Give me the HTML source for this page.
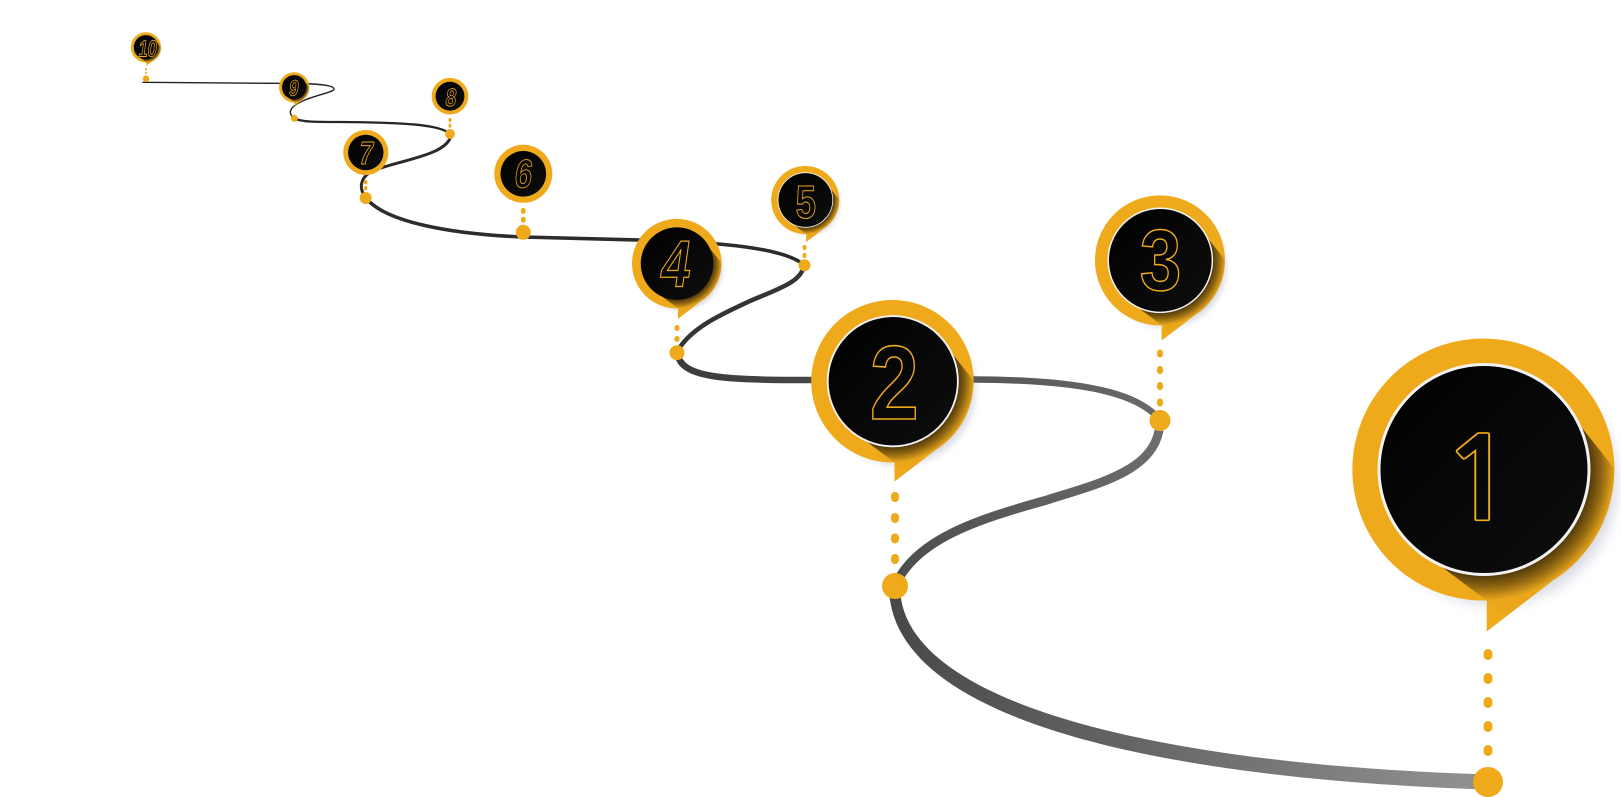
<!DOCTYPE html>
<html lang="en">
<head>
<meta charset="utf-8">
<title>Numbered path 1-10</title>
<style>
html,body{margin:0;padding:0;background:#fff;width:1621px;height:797px;overflow:hidden}
svg{display:block}
.n{fill:none;stroke:#efaa1c;font-family:"Liberation Sans",sans-serif;font-weight:700;text-anchor:middle}
.g{fill:#efaa1c}
.l{fill:none;stroke-linecap:round}
</style>
</head>
<body>
<svg width="1621" height="797" viewBox="0 0 1621 797" xmlns="http://www.w3.org/2000/svg">
<defs>
<linearGradient id="ga" gradientUnits="userSpaceOnUse" x1="1488" y1="782" x2="895" y2="600"><stop offset="0" stop-color="#929292"/><stop offset=".55" stop-color="#666"/><stop offset="1" stop-color="#484848"/></linearGradient>
<linearGradient id="gb" gradientUnits="userSpaceOnUse" x1="895" y1="586" x2="1160" y2="420"><stop offset="0" stop-color="#4c4c4c"/><stop offset="1" stop-color="#6e6e6e"/></linearGradient>
<linearGradient id="gc" gradientUnits="userSpaceOnUse" x1="1160" y1="420" x2="677" y2="352"><stop offset="0" stop-color="#6a6a6a"/><stop offset=".4" stop-color="#565656"/><stop offset="1" stop-color="#3a3a3a"/></linearGradient>
<radialGradient id="sh" gradientUnits="userSpaceOnUse" cx="0" cy="0" r="131"><stop offset=".79" stop-color="#000" stop-opacity=".72"/><stop offset=".9" stop-color="#000" stop-opacity=".4"/><stop offset="1" stop-color="#000" stop-opacity=".02"/></radialGradient>
<linearGradient id="ink" x1="0" y1="0" x2="1" y2="1"><stop offset="0" stop-color="#000"/><stop offset="1" stop-color="#0e0e0e"/></linearGradient>
<clipPath id="pc"><path d="M2.7,131 L2.7,162 L69,111 A131,131 0 1 0 2.7,131 Z"/></clipPath>
<filter id="bl" x="-30%" y="-30%" width="160%" height="160%"><feGaussianBlur stdDeviation="6"/></filter>
<g id="base">
  <circle cx="11" cy="13" r="122" fill="#7f88a8" opacity=".3" filter="url(#bl)"/>
  <path class="g" d="M2.7,131 L2.7,162 L69,111 A131,131 0 1 0 2.7,131 Z"/>
  <g clip-path="url(#pc)"><path d="M97.7,-42 L190,74 L60,174 L-44,96 Z" fill="url(#sh)"/></g>
</g>
<g id="pw"><use href="#base"/><circle r="105" fill="url(#ink)" stroke="#f2f2f2" stroke-width="3"/></g>
<g id="pn"><use href="#base"/><circle r="106" fill="url(#ink)"/></g>
<g id="pf"><circle r="131" fill="#efaa1c"/><circle r="103" fill="url(#ink)"/></g>
</defs>

<!-- path -->
<path d="M1488,789.5 C1165,779 889,722 889,586 L900,586 C900,708 1175,765 1488,774.5 Z" fill="url(#ga)"/>
<path class="l" stroke="url(#gb)" stroke-width="9" d="M895,586 C915,540 975,520 1047,500 C1100,483 1160,470 1160,420"/>
<path class="l" stroke="url(#gc)" stroke-width="6.5" d="M1160,420 C1140,395 1090,380 974,379.5 L811,380 C720,380 680,378 677,352"/>
<path class="l" stroke="#343434" stroke-width="4.5" d="M677,352 C690,328 722,314 750,301 C778,289 802,282 804,265"/>
<path class="l" stroke="#2c2c2c" stroke-width="3.6" d="M804,265 C785,248 720,242 640,240 L523,237 C450,234 385,222 366,198"/>
<path class="l" stroke="#2a2a2a" stroke-width="3" d="M366,198 C358,188 360,176 375,170 C400,160 450,155 451,134"/>
<path class="l" stroke="#262626" stroke-width="2.3" d="M450,134 C440,124 400,122.5 340,122 C315,122 300,122 294,118"/>
<path class="l" stroke="#222" stroke-width="1.4" d="M294,118 C286,112 292,105 305,100 C320,94 334,92 334,89 C334,85 318,84 300,83.5 L143,82.3"/>

<!-- dotted connectors -->
<g class="g">
  <rect x="1483.5" y="649" width="9" height="11" rx="4.5"/><rect x="1483.5" y="673" width="9" height="11" rx="4.5"/><rect x="1483.5" y="697" width="9" height="11" rx="4.5"/><rect x="1483.5" y="721" width="9" height="11" rx="4.5"/><rect x="1483.5" y="745" width="9" height="11" rx="4.5"/>
  <circle cx="1488" cy="782" r="15"/>
  <rect x="891" y="492" width="8" height="10" rx="4"/><rect x="891" y="513" width="8" height="10" rx="4"/><rect x="891" y="533.5" width="8" height="10" rx="4"/><rect x="891" y="554" width="8" height="10" rx="4"/>
  <circle cx="895" cy="586" r="13"/>
  <rect x="1157" y="349.5" width="6" height="8" rx="3"/><rect x="1157" y="366" width="6" height="8" rx="3"/><rect x="1157" y="382" width="6" height="8" rx="3"/><rect x="1157" y="398.5" width="6" height="8" rx="3"/>
  <circle cx="1160" cy="420.5" r="10.5"/>
  <rect x="674.5" y="325" width="5" height="6" rx="2.5"/><rect x="674.5" y="336" width="5" height="6" rx="2.5"/>
  <circle cx="677" cy="352.7" r="7.5"/>
  <rect x="802.5" y="245" width="4" height="5" rx="2"/><rect x="802.5" y="253" width="4" height="5" rx="2"/>
  <circle cx="804.5" cy="265.3" r="6"/>
  <rect x="521" y="208" width="4.6" height="6" rx="2.3"/><rect x="521" y="216.7" width="4.6" height="6" rx="2.3"/>
  <circle cx="523.3" cy="232.3" r="7.5"/>
  <rect x="364" y="180" width="3.4" height="4.4" rx="1.7"/><rect x="364" y="186" width="3.4" height="4.4" rx="1.7"/>
  <circle cx="365.7" cy="198" r="6"/>
  <rect x="448.5" y="118" width="3" height="4" rx="1.5"/><rect x="448.5" y="123.7" width="3" height="4" rx="1.5"/>
  <circle cx="450" cy="134" r="5"/>
  <circle cx="294.3" cy="118.3" r="3.5"/>
  <rect x="145" y="68" width="2" height="2.4" rx="1"/><rect x="145" y="71.6" width="2" height="2.4" rx="1"/>
  <circle cx="146" cy="78.7" r="3.3"/>
</g>

<!-- pins -->
<use href="#pw" transform="translate(1484,469.5)"/>
<use href="#pw" transform="translate(892.8,381.2) scale(.62)"/>
<use href="#pw" transform="translate(1160.3,260.3) scale(.496)"/>
<use href="#pn" transform="translate(677,263.6) scale(.342)"/>
<use href="#pw" transform="translate(805.4,200) scale(.26)"/>
<use href="#pf" transform="translate(523.3,173.8) scale(.2214)"/>
<use href="#pf" transform="translate(365.8,152.5) scale(.172)"/>
<use href="#pf" transform="translate(450,96.2) scale(.14)"/>
<use href="#pn" transform="translate(294.2,87.3) scale(.115)"/>
<use href="#pn" transform="translate(146,47.3) scale(.115)"/>

<!-- digits -->
<text class="n" stroke-width="1.7" font-size="115" style="font-family:NanumGothic,'Liberation Sans',sans-serif" transform="translate(1479.3,520) scale(1.13,1)">1</text>
<text class="n" stroke-width="1.6" font-size="105" transform="translate(894.3,419) scale(.84,1)">2</text>
<text class="n" stroke-width="1.5" font-size="86" transform="translate(1160.5,290) scale(.87,1)">3</text>
<text class="n" stroke-width="1.3" font-size="66" transform="translate(673,286.7) scale(.8,1) skewX(-10)">4</text>
<text class="n" stroke-width="1" font-size="46" transform="translate(805.8,218) scale(.8,1)">5</text>
<text class="n" stroke-width=".9" font-size="40" transform="translate(522,187.4) scale(.78,1) skewX(-10)">6</text>
<text class="n" stroke-width="1" font-size="32" transform="translate(365,164) scale(.8,1) skewX(-10)">7</text>
<text class="n" stroke-width=".8" font-size="25" transform="translate(450,105.8) scale(.76,1) skewX(-10)">8</text>
<text class="n" stroke-width=".8" font-size="22" transform="translate(293,95.5) scale(.76,1) skewX(-10)">9</text>
<text class="n" stroke-width=".9" font-size="23" transform="translate(147,56.6) scale(.7,1) skewX(-10)">10</text>
</svg>
</body>
</html>
